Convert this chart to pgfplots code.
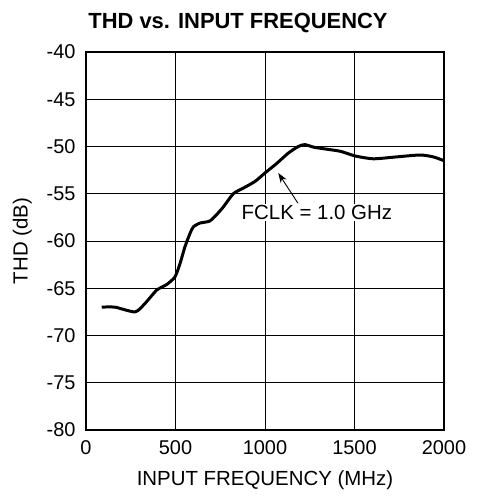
\documentclass[border=0pt]{standalone}
\usepackage{pgfplots}
\pgfplotsset{compat=1.18}
\usepackage{fontspec}
\setmainfont{Liberation Sans}
\usetikzlibrary{calc,arrows.meta}
\begin{document}
\begin{tikzpicture}[x=1bp,y=1bp]
\begin{axis}[
  name=ax,
  scale only axis,
  width=358bp, height=378bp,
  xmin=0, xmax=2000, ymin=-80, ymax=-40,
  xtick={0,500,1000,1500,2000},
  ytick={-80,-75,-70,-65,-60,-55,-50,-45,-40},
  grid=major,
  major grid style={black, line width=1pt},
  axis line style={black, line width=1.5pt},
  tick style={draw=none},
  /pgf/number format/assume math mode=true,
  /pgf/number format/1000 sep={},
  ticklabel style={font=\fontsize{20}{22}\selectfont},
  xticklabel style={yshift=-7bp},
  yticklabel style={xshift=-7bp},
  label style={font=\fontsize{20.5}{22}\selectfont},
  xlabel={INPUT FREQUENCY (MHz)},
  xlabel style={yshift=-9bp},
  ylabel={THD (dB)},
  ylabel style={yshift=8bp},
  title={\textbf{THD vs. INPUT FREQUENCY}},
  title style={font=\fontsize{22}{24}\selectfont, yshift=10bp, xshift=-27bp},
  clip=false,
]
\addplot[black, line width=1.5pt] coordinates {(0,-80) (230,-80)};
\addplot[black, line width=3pt, smooth, tension=0.4] coordinates {
(88,-67.0) (162,-67.0) (274,-67.5) (330,-66.6) (395,-65.2) (451,-64.6)
(497,-63.8) (525,-62.4) (553,-60.6) (581,-59.2) (600,-58.5) (637,-58.1)
(690,-57.9) (730,-57.2) (767,-56.4) (823,-55.0) (879,-54.4) (944,-53.7)
(1000,-52.8) (1065,-51.8) (1130,-50.7) (1186,-50.0) (1223,-49.8) (1279,-50.1)
(1419,-50.5) (1503,-51.0) (1605,-51.3) (1735,-51.1) (1866,-50.9) (1940,-51.1)
(2000,-51.5)};
\draw[-{Stealth[length=10bp,width=7bp]}, line width=0.9pt] (axis cs:1184,-56.0) -- (axis cs:1074,-52.8);
\node[font=\fontsize{20.5}{22}\selectfont, fill=white, inner sep=1pt] at (axis cs:1290,-57.0) {FCLK = 1.0 GHz};
\end{axis}
\path[use as bounding box] ($(ax.south west)+(-86bp,-68bp)$) rectangle ($(ax.north east)+(35bp,52bp)$);
\end{tikzpicture}
\end{document}
